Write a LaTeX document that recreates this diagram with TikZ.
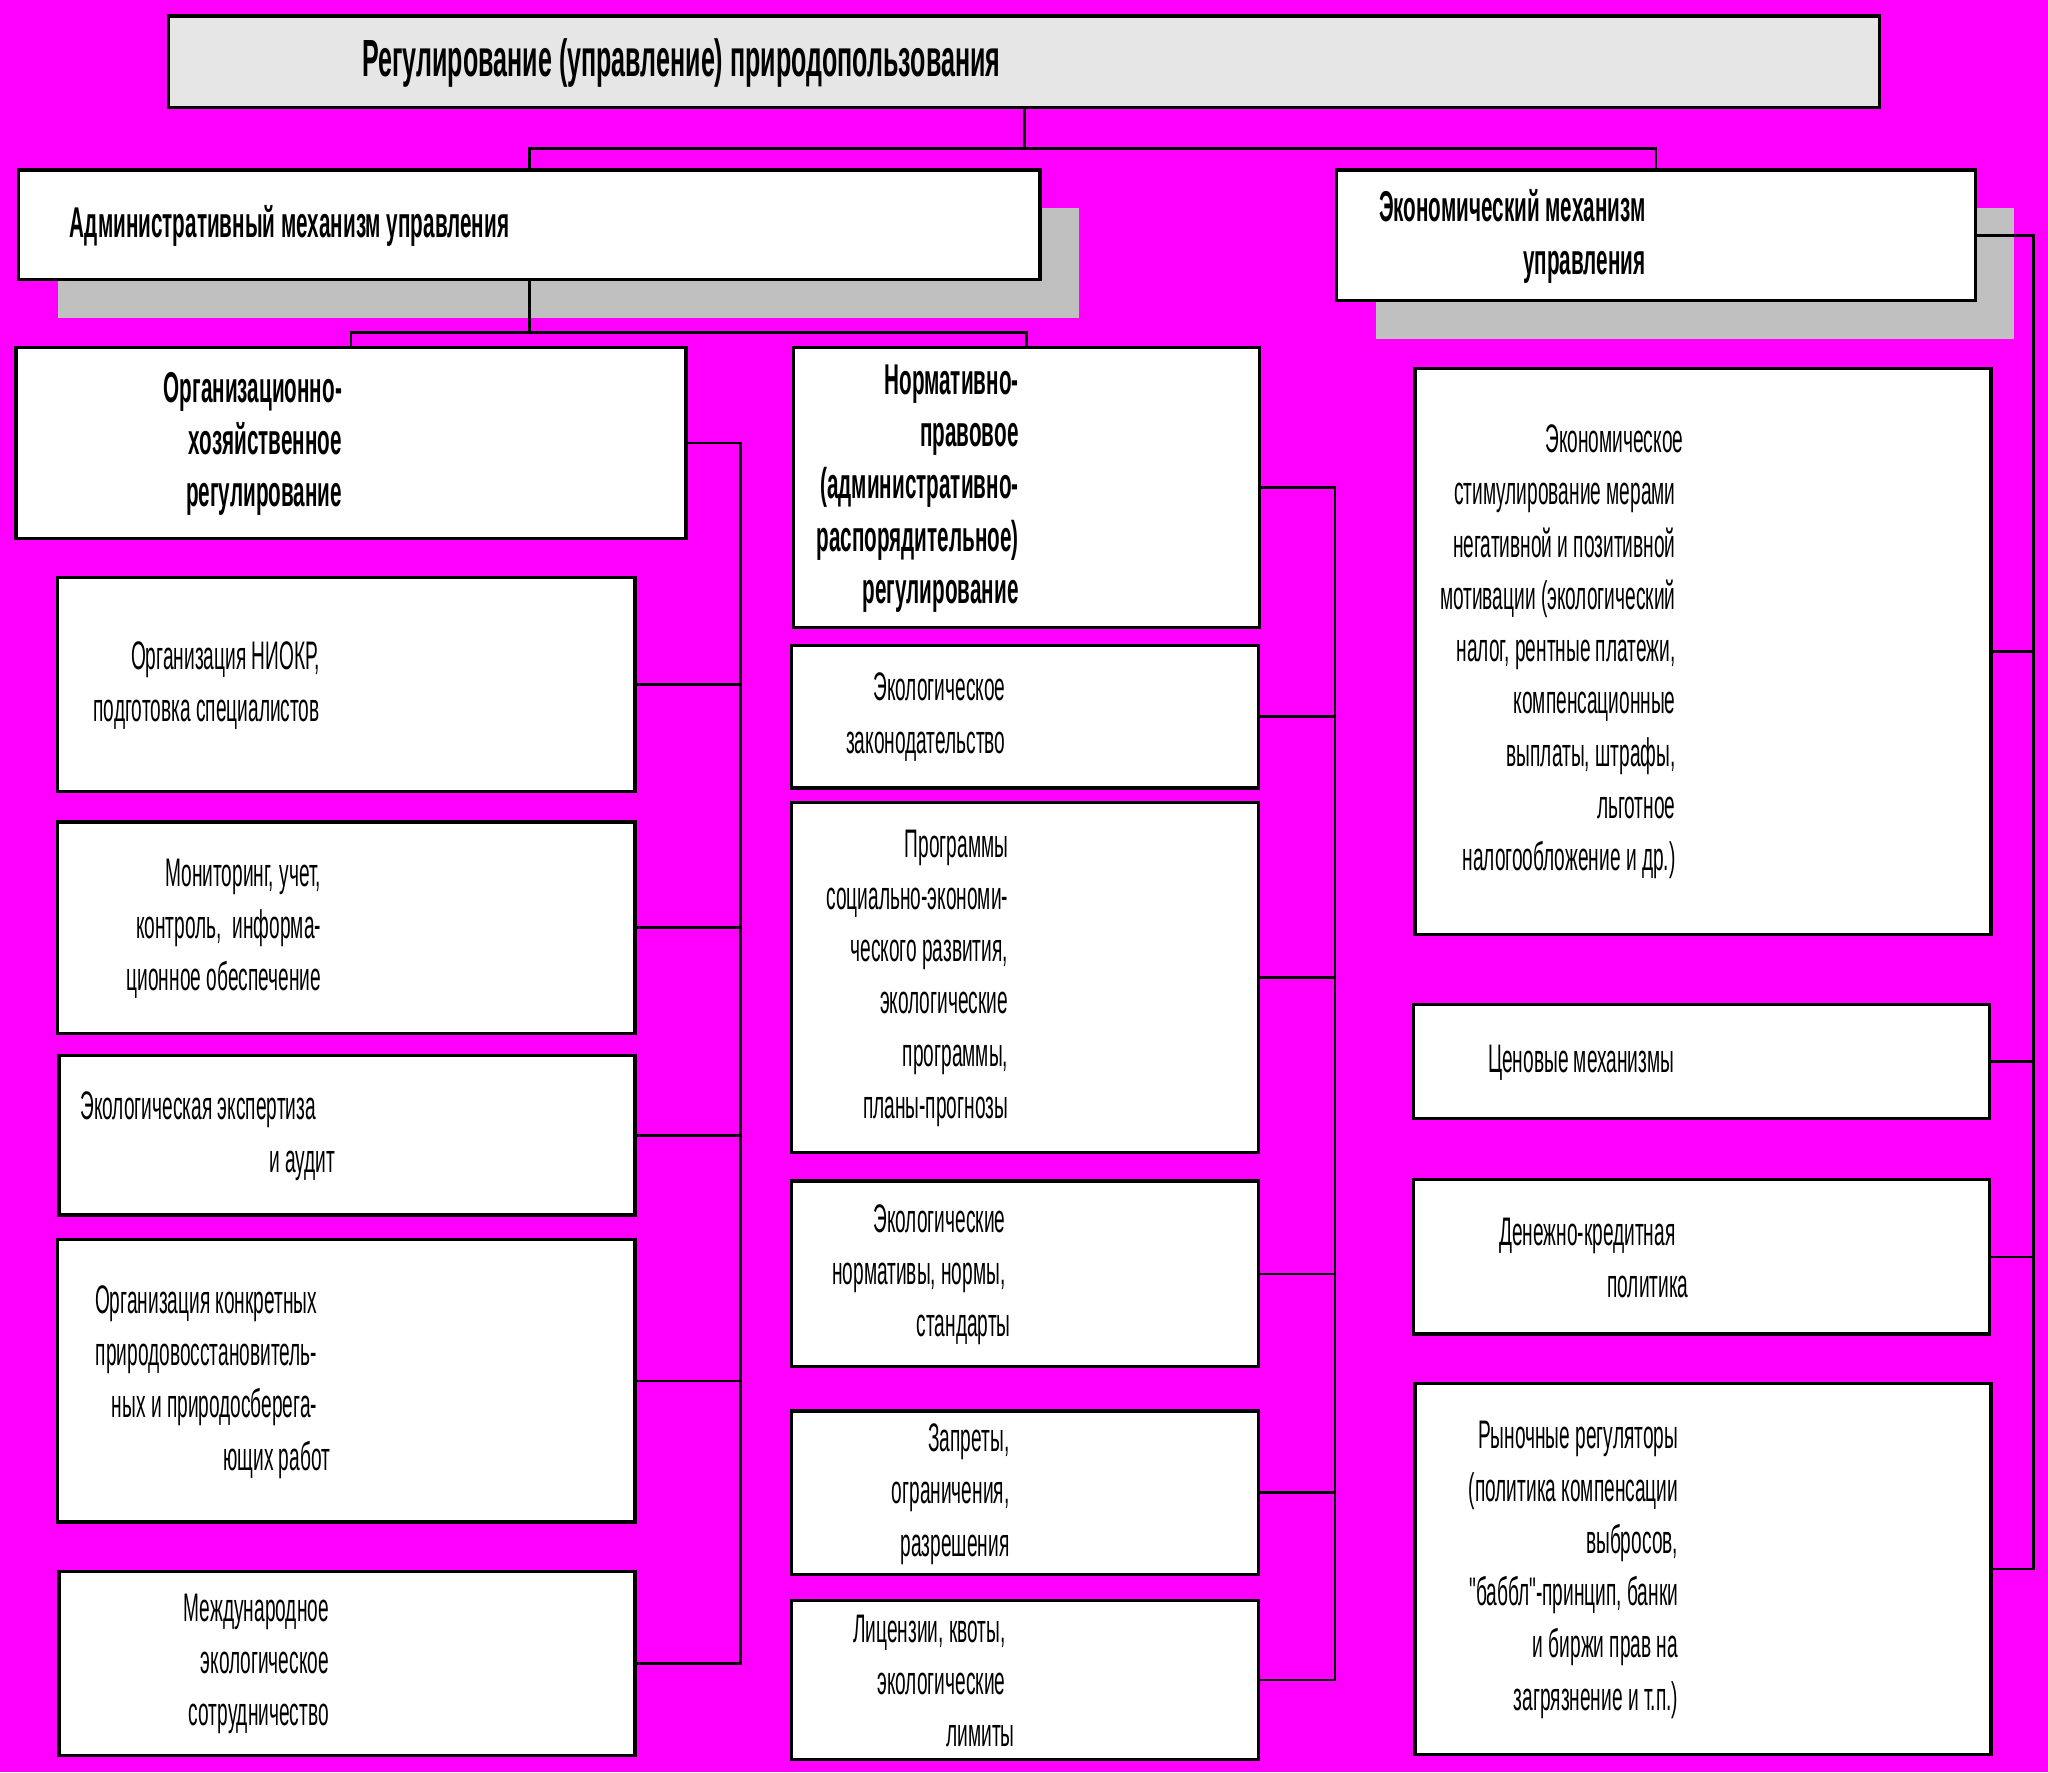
\documentclass[tikz,border=0pt]{standalone}
\usepackage{fontspec}
\setmainfont{Liberation Sans}[FakeStretch=0.48, Ligatures=TeXOff]
\usetikzlibrary{shadows}
\definecolor{bgmagenta}{RGB}{255,0,255}
\definecolor{titlegray}{RGB}{230,230,230}
\definecolor{shadowgray}{RGB}{192,192,192}

\begin{document}
\begin{tikzpicture}[x=1pt,y=-1pt,
  box/.style={draw=black, line width=2.5pt, fill=white, inner sep=0pt, anchor=north west},
  shadowed/.style={drop shadow={shadow xshift=30pt, shadow yshift=-29pt, fill=shadowgray, opacity=1}},
  txt/.style={align=right, anchor=east, inner sep=0pt, yshift=-2pt, font=\fontsize{30.5}{40}\selectfont},
  btxt/.style={txt, font=\fontsize{33}{40}\selectfont\bfseries},
  link/.style={line width=2pt}]
\fill[bgmagenta] (0,0) rectangle (1568,1357);
\useasboundingbox (0,0) rectangle (1568,1357);

% upper levels
\node[box, fill=titlegray, minimum width=1310, minimum height=70] (top) at (128,11) {};
\node[box, shadowed, minimum width=782, minimum height=84] (admin) at (13,129) {};
\node[box, shadowed, minimum width=489, minimum height=100] (econ) at (1022,129) {};
\node[box, minimum width=513, minimum height=146] (org) at (11,265) {};
\node[box, minimum width=357, minimum height=214] (norm) at (606,265) {};

% left column
\node[box, minimum width=442, minimum height=164] (l1) at (43,441) {};
\node[box, minimum width=442, minimum height=162] (l2) at (43,628) {};
\node[box, minimum width=441, minimum height=122] (l3) at (44,807) {};
\node[box, minimum width=442, minimum height=216] (l4) at (43,948) {};
\node[box, minimum width=441, minimum height=141] (l5) at (44,1202) {};

% middle column
\node[box, minimum width=357, minimum height=109] (m1) at (605,493) {};
\node[box, minimum width=357, minimum height=268] (m2) at (605,613) {};
\node[box, minimum width=357, minimum height=142] (m3) at (605,903) {};
\node[box, minimum width=357, minimum height=125] (m4) at (605,1079) {};
\node[box, minimum width=357, minimum height=122] (m5) at (605,1224) {};

% right column
\node[box, minimum width=441, minimum height=433] (r1) at (1082,281) {};
\node[box, minimum width=441, minimum height=87] (r2) at (1081,768) {};
\node[box, minimum width=441, minimum height=118] (r3) at (1081,902) {};
\node[box, minimum width=441, minimum height=284] (r4) at (1082,1058) {};

% texts
\node[btxt, font=\fontsize{40}{44}\selectfont\bfseries] (t-top) at (766,46) {Регулирование (управление) природопользования};
\node[btxt] (t-admin) at (390,171) {Административный механизм управления};
\node[btxt] (t-econ) at (1260,179) {Экономический механизм\\управления};
\node[btxt] (t-org) at (262,338) {Организационно-\\хозяйственное\\регулирование};
\node[btxt] (t-norm) at (780,372) {Нормативно-\\правовое\\(административно-\\распорядительное)\\регулирование};

\node[txt] (t-l1) at (245,523) {Организация НИОКР,\\подготовка специалистов};
\node[txt] (t-l2) at (246,709) {Мониторинг, учет,\\контроль,~ информа-\\ционное обеспечение};
\node[txt] (t-l3) at (257,868) {Экологическая экспертиза\hspace*{15pt}\\и аудит};
\node[txt] (t-l4) at (243,1056) {Организация конкретных\\природовосстановитель-\\ных и природосберега-\\ющих работ\hspace*{-10pt}};
\node[txt] (t-l5) at (252,1272) {Международное\\экологическое\\сотрудничество};

\node[txt] (t-m1) at (770,547) {Экологическое\\законодательство};
\node[txt] (t-m2) at (772,747) {Программы\\социально-экономи-\\ческого развития,\\экологические\\программы,\\планы-прогнозы};
\node[txt] (t-m3) at (770,974) {Экологические\\нормативы, нормы,\\стандарты\hspace*{-4pt}};
\node[txt] (t-m4) at (773,1142) {Запреты,\\ограничения,\\разрешения};
\node[txt] (t-m5) at (770,1285) {Лицензии, квоты,\\экологические\\лимиты\hspace*{-7pt}};

\node[txt] (t-r1) at (1283,497) {Экономическое\hspace*{-6pt}\\стимулирование мерами\\негативной и позитивной\\мотивации (экологический\\налог, рентные платежи,\\компенсационные\\выплаты, штрафы,\\льготное\hspace*{-12pt}\\налогообложение и др.)};
\node[txt] (t-r2) at (1282,812) {Ценовые механизмы};
\node[txt] (t-r3) at (1283,961) {Денежно-кредитная\\политика\hspace*{-10pt}};
\node[txt] (t-r4) at (1285,1200) {Рыночные регуляторы\\(политика компенсации\\выбросов,\hspace*{-9pt}\\"баббл"-принцип, банки\\и биржи прав на\hspace*{-4pt}\\загрязнение и т.п.)};

% connectors
\coordinate (lbus) at (567,0);
\coordinate (mbus) at (1022,0);
\coordinate (rbus) at (1557,0);
\draw[link] (top.south) -- ++(0,30) coordinate (fork1) -| (admin.north);
\draw[link] (fork1) -| (econ.north);
\draw[link] (admin.south) -- ++(0,39) coordinate (fork2) -| (org.north);
\draw[link] (fork2) -| (norm.north);
\draw[link] (org.east) -- (org.east -| lbus) -- (l5.east -| lbus) -- (l5.east);
\draw[link] (norm.east) -- (norm.east -| mbus) -- (m5.east -| mbus) -- (m5.east);
\draw[link] (econ.east) -- (econ.east -| rbus) -- (r4.east -| rbus) -- (r4.east);
\foreach \b in {l1,l2,l3,l4}
  \draw[link] (\b.east) -- (\b.east -| lbus);
\foreach \b in {m1,m2,m3,m4}
  \draw[link] (\b.east) -- (\b.east -| mbus);
\foreach \b in {r1,r2,r3}
  \draw[link] (\b.east) -- (\b.east -| rbus);
\end{tikzpicture}
\end{document}
